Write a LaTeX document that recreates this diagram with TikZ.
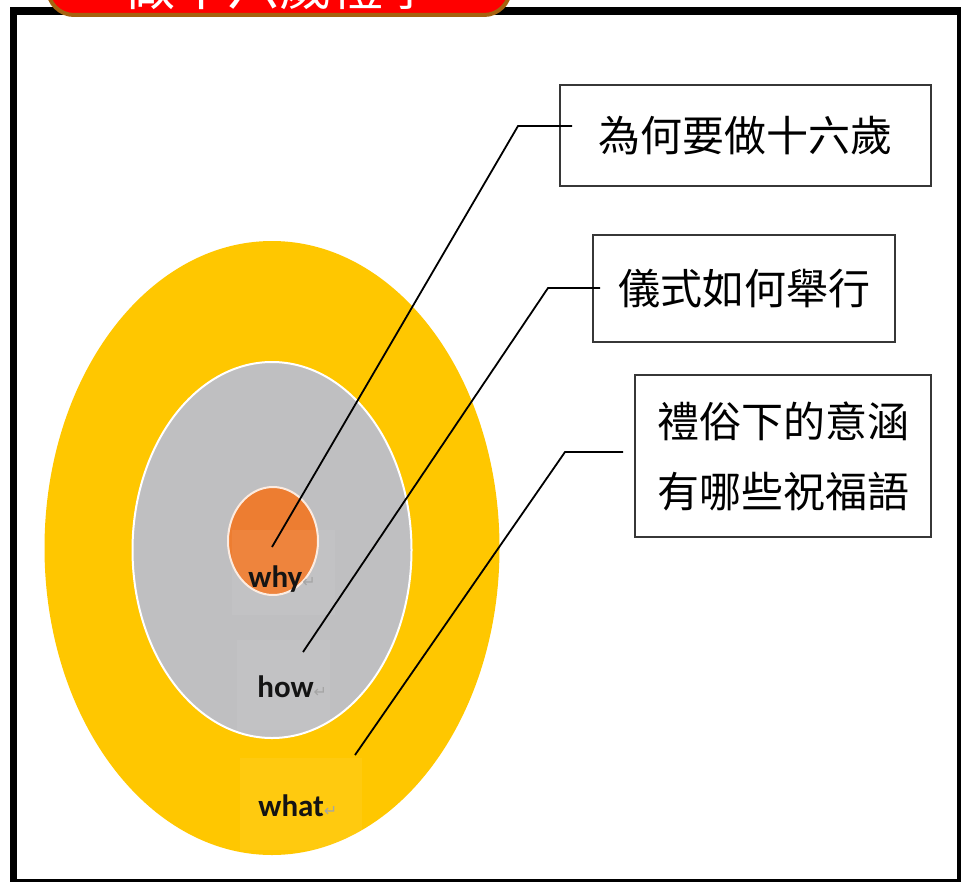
\documentclass[tikz,border=0pt]{standalone}
\usepackage{fontspec}
\setmainfont{Carlito}
\newfontfamily\cjk{Noto Sans CJK TC}
\newfontfamily\symfont{DejaVu Sans}
\usetikzlibrary{shapes.geometric}
\definecolor{gold}{RGB}{255,199,0}
\definecolor{midgray}{RGB}{191,191,193}
\definecolor{orng}{RGB}{237,125,49}
\definecolor{bannerred}{RGB}{255,0,0}
\definecolor{bannerbrown}{RGB}{165,98,15}
\definecolor{boxline}{RGB}{55,55,55}
\definecolor{retgray}{RGB}{165,165,165}
\newcommand\retmark{{\symfont\mdseries\fontsize{8pt}{8pt}\selectfont\color{retgray}↵}}
\begin{document}
\begin{tikzpicture}[x=0.5pt,y=-0.5pt,
  ring/.style={ellipse, inner sep=0pt},
  qbox/.style={draw=boxline, line width=1pt, fill=white, inner sep=0pt,
    font=\cjk\fontsize{21pt}{35pt}\selectfont, align=center},
  lbl/.style={font=\bfseries\fontsize{15.5pt}{15.5pt}\selectfont, anchor=base west,
    inner sep=0pt, text=black!92},
  conn/.style={line width=0.9pt, black},
  tbg/.style={white, opacity=0.06}]
\useasboundingbox (0,0) rectangle (961,882);
% frame
\fill[black] (10,7) rectangle (961,882);
\fill[white] (17,15) rectangle (957,879);
% banner
\node[draw=bannerbrown, fill=bannerred, line width=2pt, rounded corners=13pt,
  minimum width=231pt, minimum height=29pt, inner sep=0pt, text=white,
  font=\cjk\fontsize{26pt}{26pt}\selectfont] (banner) at (279,-14) {做十六歲禮學};
% rings
\node[ring, fill=gold, minimum width=227.5pt, minimum height=307pt] (outer) at (272,548) {};
\node[ring, fill=midgray, draw=white, line width=1pt, minimum width=139.5pt, minimum height=188pt] (middle) at (272,550) {};
\node[ring, fill=orng, draw=white!85!orng, line width=1pt, minimum width=45pt, minimum height=54pt] (inner) at (273,541) {};
% faint text-box backgrounds
\fill[tbg] (232,530) rectangle (335,615);
\fill[tbg] (237,640) rectangle (330,730);
\fill[tbg] (240,758) rectangle (362,850);
% labels
\node[lbl] (why) at (248,587) {why\retmark};
\node[lbl] (how) at (257,697) {how\retmark};
\node[lbl] (what) at (258,816) {what\retmark};
% question boxes
\node[qbox, minimum width=185.5pt, minimum height=50.5pt] (q1) at (745.5,135.5) {為何要做十六歲};
\node[qbox, minimum width=151pt, minimum height=53.5pt] (q2) at (744,288.5) {儀式如何舉行};
\node[qbox, minimum width=148pt, minimum height=81pt] (q3) at (783,456) {禮俗下的意涵\\有哪些祝福語};
% connectors
\coordinate (whyEnd) at (272,547);
\coordinate (whyKnee) at (518,126);
\coordinate (whyTip) at (572,126);
\coordinate (howEnd) at (303,652);
\coordinate (howKnee) at (548,288);
\coordinate (howTip) at (600,288);
\coordinate (whatEnd) at (355,755);
\coordinate (whatKnee) at (565,452);
\coordinate (whatTip) at (623,452);
\draw[conn] (whyEnd) -- (whyKnee) -- (whyTip);
\draw[conn] (howEnd) -- (howKnee) -- (howTip);
\draw[conn] (whatEnd) -- (whatKnee) -- (whatTip);
\end{tikzpicture}
\end{document}
